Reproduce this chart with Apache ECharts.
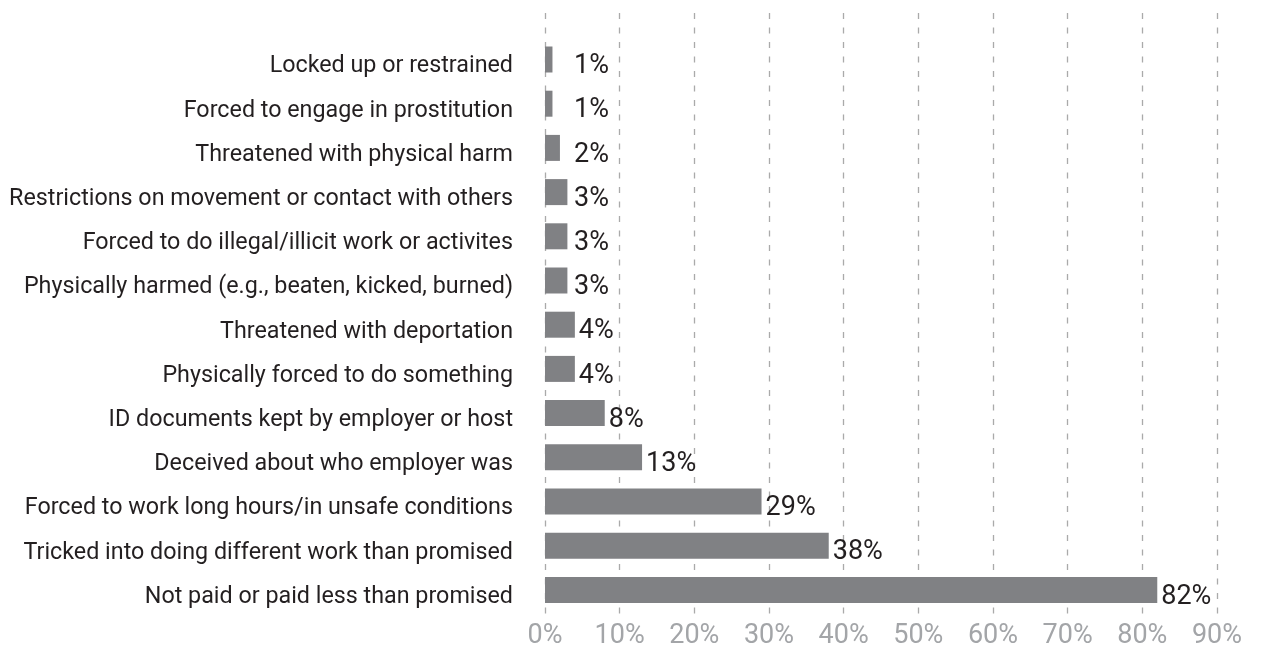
<!DOCTYPE html>
<html>
<head>
<meta charset="utf-8">
<script src="https://cdn.jsdelivr.net/npm/echarts@6/dist/echarts.min.js"></script>
<style>
  html, body { margin: 0; padding: 0; background: #ffffff; }
  #chart { width: 1263px; height: 650px; }
</style>
</head>
<body>
<div id="chart"></div>
<script>
// Forms of coercion reported, listed top to bottom
const categories = [
  'Locked up or restrained',
  'Forced to engage in prostitution',
  'Threatened with physical harm',
  'Restrictions on movement or contact with others',
  'Forced to do illegal/illicit work or activites',
  'Physically harmed (e.g., beaten, kicked, burned)',
  'Threatened with deportation',
  'Physically forced to do something',
  'ID documents kept by employer or host',
  'Deceived about who employer was',
  'Forced to work long hours/in unsafe conditions',
  'Tricked into doing different work than promised',
  'Not paid or paid less than promised'
];

// Share of respondents (%)
const shares = [1, 1, 2, 3, 3, 3, 4, 4, 8, 13, 29, 38, 82];

// Percentage axis range
const axisMin = 0;
const axisMax = 90;
const axisStep = 10;

const FONT = 'Roboto, "Noto Sans", sans-serif';
const TEXT = '#231f20';
const AXIS_TEXT = '#a3a5a8';
const BAR = '#808184';
const GRID_LINE = '#aaaaaa';

const chart = echarts.init(document.getElementById('chart'), null, { renderer: 'canvas' });

const plotLeft = 545;
const plotWidth = 672;
const bandHeight = 45.15;

chart.setOption({
  animation: false,
  backgroundColor: '#ffffff',
  grid: [
    // bars
    { left: plotLeft, width: plotWidth, top: 37.4, height: bandHeight * categories.length, containLabel: false },
    // dashed vertical guides, running a little higher than the bars
    { left: plotLeft, width: plotWidth, top: 13, height: 607, containLabel: false }
  ],
  xAxis: [
    {
      type: 'value',
      gridIndex: 0,
      min: axisMin,
      max: axisMax,
      interval: axisStep,
      axisLine: { show: false },
      axisTick: { show: false },
      splitLine: { show: false },
      axisLabel: {
        formatter: '{value}%',
        color: AXIS_TEXT,
        fontFamily: FONT,
        fontSize: 27,
        margin: 11
      }
    },
    {
      type: 'value',
      gridIndex: 1,
      min: axisMin,
      max: axisMax,
      interval: axisStep,
      axisLine: { show: false },
      axisTick: { show: false },
      axisLabel: { show: false },
      splitLine: {
        show: true,
        lineStyle: { color: GRID_LINE, width: 1.3, type: [6, 8.5] }
      }
    }
  ],
  yAxis: [
    {
      type: 'category',
      gridIndex: 0,
      data: categories,
      inverse: true,
      axisLine: { show: false },
      axisTick: { show: false },
      splitLine: { show: false },
      axisLabel: {
        color: TEXT,
        fontFamily: FONT,
        fontSize: 23.3,
        margin: 32,
        verticalAlign: 'top',
        lineHeight: 14
      }
    },
    {
      type: 'category',
      gridIndex: 1,
      data: categories,
      show: false
    }
  ],
  series: [
    {
      type: 'bar',
      xAxisIndex: 0,
      yAxisIndex: 0,
      data: shares,
      barWidth: 26,
      itemStyle: { color: BAR },
      label: {
        show: true,
        position: 'right',
        distance: 4,
        formatter: '{c}%',
        color: TEXT,
        fontFamily: FONT,
        fontSize: 27
      },
      // short bars keep their labels at a common minimum offset from the axis
      labelLayout: function (params) {
        return { dx: Math.max(0, 25 - params.rect.width), dy: 7 };
      }
    }
  ]
});
</script>
</body>
</html>
